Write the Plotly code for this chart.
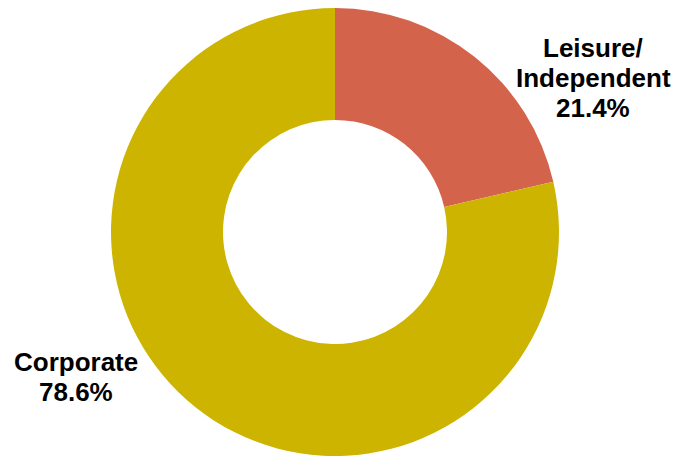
import plotly.graph_objects as go

categories = ["Leisure/<br>Independent", "Corporate"]
shares = [21.4, 78.6]
colors = ["#D3644B", "#CCB400"]

W, H = 679, 458
OFF = 8  # page body margin compensation
# label block centres in pixels (screen)
label_px = [(593, 78), (76, 377)]

fig = go.Figure(go.Pie(
    labels=categories,
    values=shares,
    hole=0.5,
    sort=False,
    direction="clockwise",
    rotation=0,
    marker=dict(colors=colors, line=dict(width=0)),
    textinfo="none",
    hoverinfo="label+percent",
    domain=dict(x=[(111 - OFF) / W, (559 - OFF) / W],
                y=[1 - (456 - OFF) / H, 1 - (8 - OFF) / H]),
    showlegend=False,
))

LINE = 30
for cat, val, (px, py) in zip(categories, shares, label_px):
    lines = cat.split("<br>") + [f"{val:.1f}%"]
    n = len(lines)
    for i, ln in enumerate(lines):
        fig.add_annotation(
            x=(px - OFF) / W, y=1 - (py - OFF) / H, xref="paper", yref="paper",
            text=f"<b>{ln}</b>",
            showarrow=False, align="center",
            yshift=-LINE * (i - (n - 1) / 2),
            font=dict(family="Liberation Sans, Arial, sans-serif", size=26, color="#000000"),
            xanchor="center", yanchor="middle",
        )

fig.update_layout(
    width=W, height=H,
    margin=dict(l=0, r=0, t=0, b=0),
    paper_bgcolor="white", plot_bgcolor="white",
)
fig.write_html("out.html")
